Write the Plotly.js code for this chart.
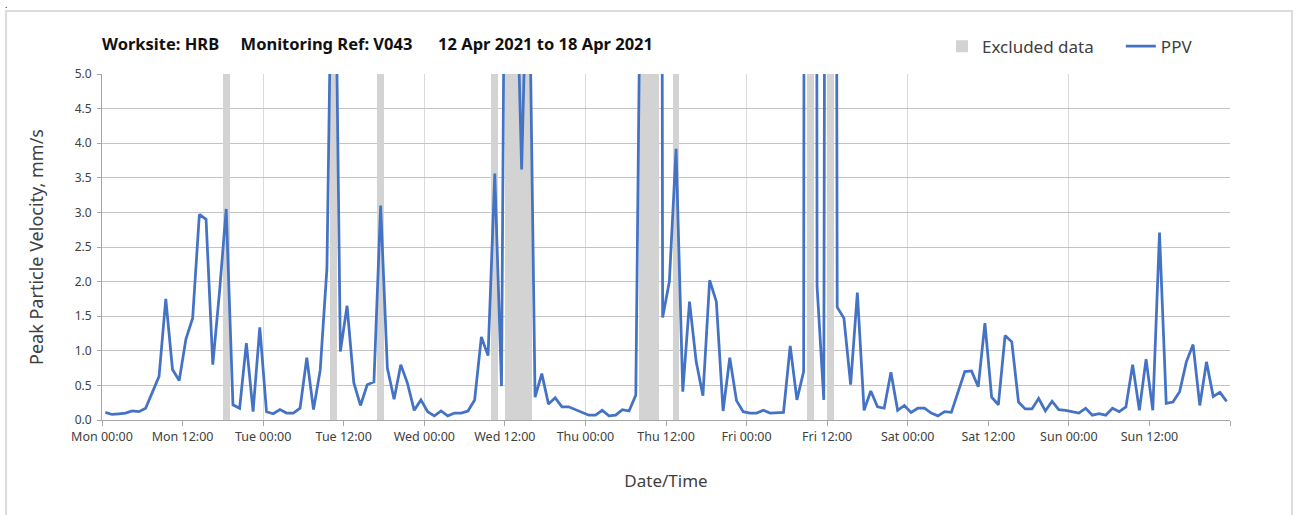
<!DOCTYPE html>
<html><head><meta charset="utf-8">
<script src="https://cdn.plot.ly/plotly-3.0.1.min.js"></script>
<style>
html,body{margin:0;padding:0;background:#fff;}
#frame{position:absolute;left:5px;top:10px;width:1288px;height:520px;border:2px solid #dcdcdc;border-bottom:none;box-sizing:border-box;}
#dot{position:absolute;left:5px;top:0px;font-size:9px;line-height:9px;font-family:'Noto Sans';color:#000;}
#chart{position:absolute;left:0;top:0;width:1301px;height:515px;}
.main-svg text{font-variant-numeric:oldstyle-nums;}
</style></head>
<body>
<div id="frame"></div>
<div id="dot">.</div>
<div id="chart"></div>
<script>
// hourly PPV readings (mm/s), one per hour from Mon 00:00 to Sun 23:00
const ppv = [
 0.11,0.08,0.09,0.10,0.13,0.12,0.17,0.39,0.63,1.75,0.73,0.57,
 1.17,1.47,2.97,2.90,0.80,1.85,3.05,0.22,0.17,1.11,0.12,1.34,
 0.12,0.09,0.15,0.10,0.10,0.17,0.90,0.15,0.72,2.19,9.0,0.99,
 1.65,0.54,0.21,0.51,0.55,3.10,0.75,0.30,0.80,0.53,0.14,0.29,
 0.12,0.06,0.13,0.06,0.10,0.10,0.13,0.29,1.20,0.93,3.56,0.49,
 15.0,7.4,3.62,7.5,0.33,0.67,0.23,0.32,0.19,0.19,0.15,0.10,
 0.07,0.07,0.14,0.06,0.07,0.15,0.13,0.36,9.6,15.0,60.0,1.48,
 2.00,3.92,0.41,1.71,0.84,0.35,2.02,1.71,0.13,0.90,0.28,0.12,
 0.10,0.10,0.14,0.10,0.10,0.11,1.07,0.29,0.70,100.0,1.93,0.29,
 50.0,1.63,1.47,0.51,1.84,0.14,0.42,0.19,0.17,0.69,0.14,0.21,
 0.11,0.17,0.17,0.10,0.06,0.12,0.11,0.40,0.70,0.71,0.48,1.40,
 0.33,0.22,1.22,1.13,0.26,0.16,0.16,0.31,0.13,0.27,0.15,0.14,
 0.12,0.10,0.17,0.07,0.09,0.07,0.17,0.12,0.19,0.80,0.14,0.88,
 0.14,2.71,0.24,0.26,0.41,0.84,1.09,0.21,0.84,0.34,0.40,0.27
];
// hour indices flagged as excluded data
const excludedHours = [18,34,41,58,60,61,62,63,80,81,82,85,105,108];
const excludedLevel = 5;
// x tick labels every 12 hours
const tickLabels = ["Mon 00:00","Mon 12:00","Tue 00:00","Tue 12:00","Wed 00:00","Wed 12:00",
  "Thu 00:00","Thu 12:00","Fri 00:00","Fri 12:00","Sat 00:00","Sat 12:00","Sun 00:00","Sun 12:00",""];
const tickHours = tickLabels.map((_, i) => i * 12);
const dayHours = [0,24,48,72,96,120,144,168];

const hours = ppv.map((_, i) => i + 0.5);
const FONT = "'Noto Sans', sans-serif";
const NB = n => '\u00a0'.repeat(n);

const traces = [
  {type:'bar', name:'Excluded data' + NB(5), x: excludedHours.map(h => h + 0.5),
   y: excludedHours.map(() => excludedLevel), width: 1,
   marker:{color:'#d3d3d3', line:{width:0}}, xaxis:'x', yaxis:'y', hoverinfo:'skip'},
  {type:'scatter', mode:'lines', name:'PPV', x: hours, y: ppv,
   line:{color:'#4472c4', width:2.75}, xaxis:'x2', yaxis:'y'}
];

const layout = {
  width:1301, height:515,
  paper_bgcolor:'rgba(0,0,0,0)', plot_bgcolor:'rgba(0,0,0,0)',
  margin:{l:102, r:71, t:74, b:95},
  font:{family:FONT, color:'#404040', size:11},
  title:{text:'<b>Worksite: HRB' + NB(5) + 'Monitoring Ref: V043' + NB(6) + '12 Apr 2021 to 18 Apr 2021</b>',
    x:0, xanchor:'left', xref:'paper', y:1-44/515, yanchor:'middle', yref:'container',
    font:{family:FONT, size:16.5, color:'#111'}},
  showlegend:true,
  legend:{orientation:'h', x:(942-102)/1128, xanchor:'left', y:1.079, yanchor:'middle',
    font:{family:FONT, size:17, color:'#404040'}, itemwidth:30,
    bgcolor:'rgba(0,0,0,0)'},
  bargap:0,
  xaxis:{range:[0,168], tickvals:dayHours, showticklabels:false, ticks:'',
    showgrid:true, gridcolor:'#dadada', gridwidth:1, zeroline:false, showline:false, fixedrange:true},
  xaxis2:{range:[0,168], overlaying:'x', anchor:'y', side:'bottom', tickvals:tickHours, ticktext:tickLabels,
    ticks:'outside', ticklen:5, tickcolor:'#a6a6a6', showgrid:false, zeroline:false,
    showline:true, linecolor:'#a6a6a6', linewidth:1, tickfont:{size:12.5, color:'#404040'},
    title:{text:'Date/Time', font:{size:17, color:'#404040'}, standoff:31}},
  yaxis:{range:[0,5], dtick:0.5, tickformat:'.1f', ticks:'outside', ticklen:4, tickcolor:'#a6a6a6',
    ticklabelstandoff:3,
    showgrid:true, gridcolor:'#c4c4c4', gridwidth:1, zeroline:false, showline:true,
    linecolor:'#a6a6a6', linewidth:1, tickfont:{size:12, color:'#404040'},
    title:{text:'Peak Particle Velocity, mm/s', font:{size:18, color:'#404040'}, standoff:26}}
};

Plotly.newPlot('chart', traces, layout, {displayModeBar:false, staticPlot:true});
</script>
</body></html>
